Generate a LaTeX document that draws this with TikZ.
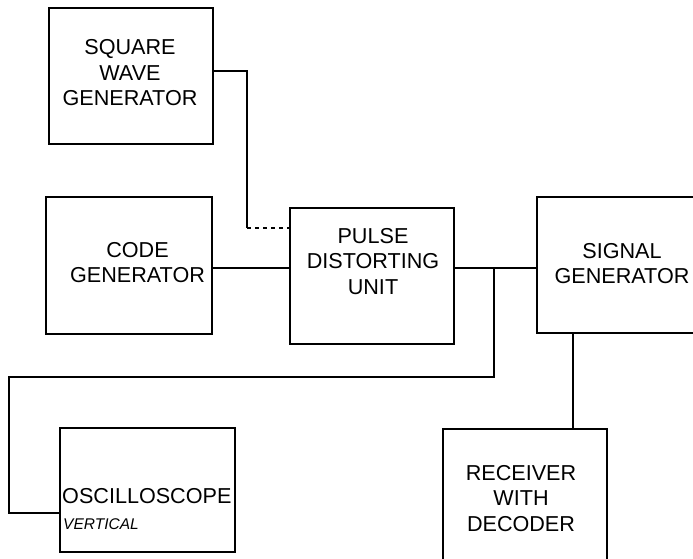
\documentclass[tikz,border=0pt]{standalone}
\usepackage{fontspec}
\setmainfont{Liberation Sans}
\begin{document}
\begin{tikzpicture}[x=1pt,y=-1pt,
  box/.style={draw,line width=1.8pt,minimum width=#1,inner sep=0pt},
  box/.default=164pt,
  txt/.style={font=\fontsize{21.6}{25.5}\selectfont,align=center,inner sep=0pt},
  wire/.style={line width=1.8pt},
  dotwire/.style={line width=1.8pt,dash pattern=on 4pt off 4pt}]
\useasboundingbox (0,0) rectangle (693,559);
\clip (0,0) rectangle (693,559);
% boxes
\node[box=164pt,minimum height=136pt] (sq) at (131,76) {};
\node[box=166pt,minimum height=137pt] (cg) at (129,265.5) {};
\node[box=164pt,minimum height=136pt] (pu) at (372,276) {};
\node[box=170pt,minimum height=136pt] (sg) at (622,265) {};
\node[box=164pt,minimum height=136pt] (rx) at (525,497) {};
\node[box=175pt,minimum height=124pt] (os) at (147.5,490) {};
% texts
\node[txt] (tsq) at (130,73) {SQUARE\\WAVE\\GENERATOR};
\node[txt] (tcg) at (137.5,262.5) {CODE\\GENERATOR};
\node[txt] (tpu) at (373,261.5) {PULSE\\DISTORTING\\UNIT};
\node[txt] (tsg) at (622,263.5) {SIGNAL\\GENERATOR};
\node[txt] (trx) at (521,498.5) {RECEIVER\\WITH\\DECODER};
\node[txt,anchor=base west] (tos) at (62,503) {OSCILLOSCOPE};
\node[font=\fontsize{15.5}{17}\selectfont\itshape,inner sep=0pt,anchor=base west] (tvt) at (63,529.5) {VERTICAL};
% coordinates
\coordinate (a1) at (247,71);
\coordinate (a2) at (247,228);
\coordinate (b1) at (494,268);
\coordinate (b2) at (494,377);
\coordinate (b3) at (9,377);
\coordinate (b4) at (9,513);
\coordinate (c1) at (573,333);
% connectors
\draw[wire] (sq.east |- a1) -- (a1) -- (a2);
\draw[dotwire] (a2) -- (pu.west |- a2);
\draw[wire] (cg.east |- 0,268) -- (pu.west |- 0,268);
\draw[wire] (pu.east |- b1) -- (sg.west |- b1);
\draw[wire] (b1) -- (b2) -- (b3) -- (b4) -- (os.west |- b4);
\draw[wire] (sg.south -| c1) -- (rx.north -| c1);
\end{tikzpicture}
\end{document}
